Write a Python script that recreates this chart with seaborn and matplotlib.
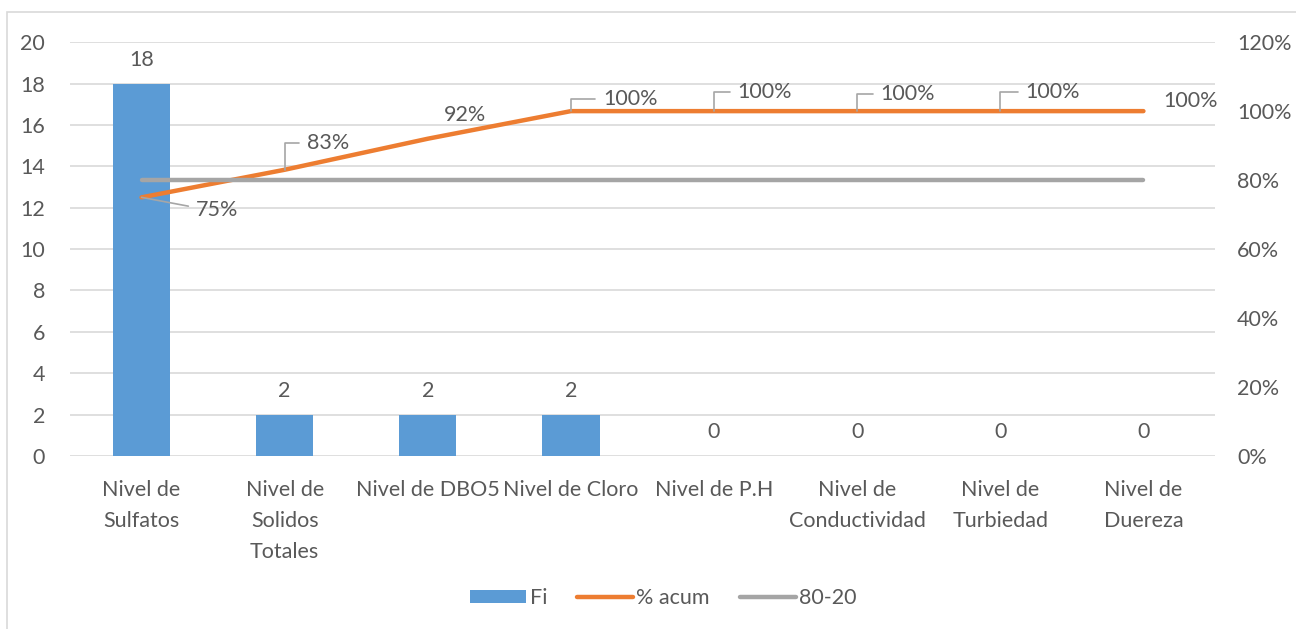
import seaborn as sns
import matplotlib.pyplot as plt
import pandas as pd
from matplotlib.patches import Rectangle
from matplotlib.ticker import PercentFormatter

# datos del grafico de Pareto
categorias = ['Nivel de\nSulfatos', 'Nivel de\nSolidos\nTotales', 'Nivel de DBO5',
              'Nivel de Cloro', 'Nivel de P.H', 'Nivel de\nConductividad',
              'Nivel de\nTurbiedad', 'Nivel de\nDuereza']
fi = [18, 2, 2, 2, 0, 0, 0, 0]
pct_acum = [75, 83, 92, 100, 100, 100, 100, 100]
linea_80_20 = [80, 80, 80, 80, 80, 80, 80, 80]
pct_labels = ['75%', '83%', '92%', '100%', '100%', '100%', '100%', '100%']

df = pd.DataFrame({'cat': categorias, 'pos': range(len(categorias)), 'Fi': fi,
                   'acum': pct_acum, 'ref': linea_80_20})

sns.set_style('white')
plt.rcParams['font.family'] = ['Lato', 'DejaVu Sans']
txt = '#595959'
grid = '#D9D9D9'
fs = 15.5

fig = plt.figure(figsize=(12.96, 6.29), dpi=100)
ax = fig.add_axes([0.054, 0.275, 0.8835, 0.658])
fig.add_artist(Rectangle((7 / 1296, -0.1), 1.5, 1.1 - 12 / 629, transform=fig.transFigure,
                         fill=False, edgecolor=grid, linewidth=1.2))

sns.barplot(data=df, x='pos', y='Fi', color='#5B9BD5', saturation=1, width=0.4, ax=ax,
            label='Fi', linewidth=0)
if ax.get_legend() is not None:
    ax.get_legend().remove()
ax.set_xlim(-0.5, 7.5)
ax.set_ylim(0, 20)
ax.set_yticks(range(0, 21, 2))
ax.yaxis.grid(True, color=grid, linewidth=1.2)
ax.set_axisbelow(True)
ax.set_xticks(range(len(categorias)))
ax.set_xticklabels(categorias, color=txt, fontsize=fs, linespacing=1.7)
ax.tick_params(axis='y', colors=txt, labelsize=fs, length=0, pad=18)
ax.tick_params(axis='x', length=0, pad=17)
ax.set_xlabel('')
ax.set_ylabel('')
for s in ax.spines.values():
    s.set_visible(False)

for i, v in enumerate(fi):
    ax.annotate(str(v), (i, v), xytext=(0, 10), textcoords='offset points',
                ha='center', va='bottom', color=txt, fontsize=fs)

ax2 = ax.twinx()
sns.lineplot(data=df, x='pos', y='acum', color='#ED7D31', linewidth=3.2, ax=ax2,
             label='% acum', solid_capstyle='round', legend=False)
sns.lineplot(data=df, x='pos', y='ref', color='#A5A5A5', linewidth=3.2, ax=ax2,
             label='80-20', solid_capstyle='round', legend=False)
ax2.set_ylim(0, 120)
ax2.set_yticks(range(0, 121, 20))
ax2.yaxis.set_major_formatter(PercentFormatter(decimals=0))
ax2.tick_params(axis='y', colors=txt, labelsize=fs, length=0, pad=16)
ax2.set_ylabel('')
ax2.set_xlabel('')
for s in ax2.spines.values():
    s.set_visible(False)

# etiquetas de % acumulado (desplazamiento en puntos, con linea guia o sin ella)
offsets = [(39, -9), (16, 19), (27, 17), (23, 9), (17, 14), (17, 12), (18, 14), (14, 7)]
guia = [True, True, False, True, True, True, True, False]
for i, (v, lab) in enumerate(zip(pct_acum, pct_labels)):
    dx, dy = offsets[i]
    if guia[i]:
        if i == 0:
            cs = 'arc,angleA=180,angleB=0,armA=9,armB=0,rad=0'
        else:
            cs = 'angle,angleA=180,angleB=90,rad=0'
        ax2.annotate(lab, (i, v), xytext=(dx, dy), textcoords='offset points',
                     ha='left', va='center', color=txt, fontsize=fs,
                     arrowprops=dict(arrowstyle='-', color='#A6A6A6', lw=1.2,
                                     shrinkA=3, shrinkB=0, connectionstyle=cs))
    else:
        ax2.annotate(lab, (i, v), xytext=(dx, dy), textcoords='offset points',
                     ha='center' if i == 2 else 'left', va='center', color=txt, fontsize=fs)

h1, l1 = ax.get_legend_handles_labels()
h2, l2 = ax2.get_legend_handles_labels()
leg = fig.legend(h1 + h2, l1 + l2, loc='center', bbox_to_anchor=(0.512, 0.049), ncol=3,
                 frameon=False, fontsize=fs, handlelength=2.6, handleheight=0.5,
                 handletextpad=0.15, columnspacing=1.4)
for t in leg.get_texts():
    t.set_color(txt)

plt.savefig('out.png', dpi=100)
